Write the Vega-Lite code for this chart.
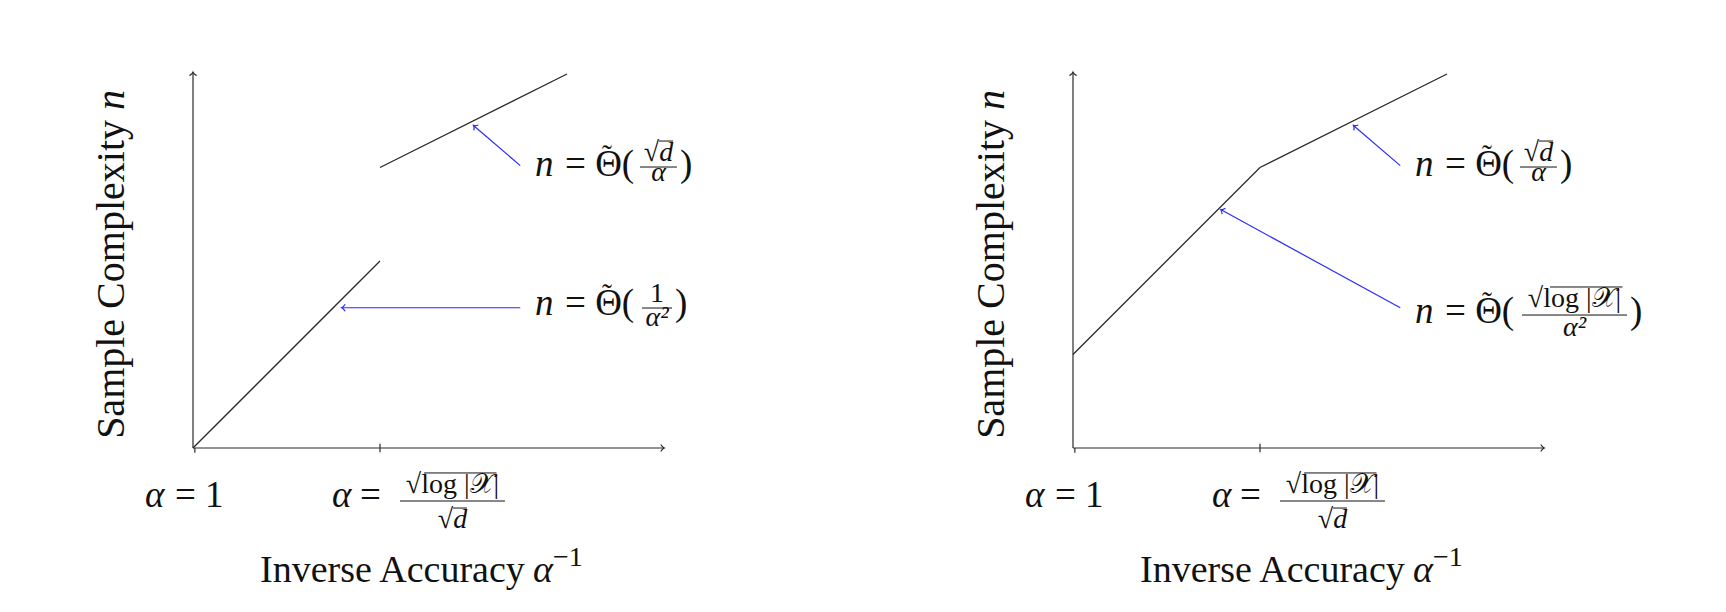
{
  "$schema": "https://vega.github.io/schema/vega-lite/v6.json",
  "padding": 0,
  "spacing": 0,
  "background": "white",
  "config": {"view": {"stroke": null}, "concat": {"spacing": 0}, "text": {"font": "Liberation Serif", "color": "#111", "baseline": "alphabetic"}},
  "datasets": {
    "curves": [
      {"panel": "L", "seg": "a", "x": 0, "y": 0},
      {"panel": "L", "seg": "a", "x": 2, "y": 2},
      {"panel": "L", "seg": "b", "x": 2, "y": 3},
      {"panel": "L", "seg": "b", "x": 4, "y": 4},
      {"panel": "R", "seg": "c", "x": 0, "y": 1},
      {"panel": "R", "seg": "c", "x": 2, "y": 3},
      {"panel": "R", "seg": "c", "x": 4, "y": 4}
    ],
    "arrows": [
      {"panel": "L", "kind": "axis", "x": 0, "y": 0, "x2": 5.04, "y2": 0},
      {"panel": "L", "kind": "axis", "x": 0, "y": 0, "x2": 0, "y2": 4.02},
      {"panel": "L", "kind": "note", "x": 3.5, "y": 3.02, "x2": 3.0, "y2": 3.45},
      {"panel": "L", "kind": "note", "x": 3.5, "y": 1.5, "x2": 1.59, "y2": 1.5},
      {"panel": "R", "kind": "axis", "x": 0, "y": 0, "x2": 5.04, "y2": 0},
      {"panel": "R", "kind": "axis", "x": 0, "y": 0, "x2": 0, "y2": 4.02},
      {"panel": "R", "kind": "note", "x": 3.5, "y": 3.02, "x2": 3.0, "y2": 3.45},
      {"panel": "R", "kind": "note", "x": 3.5, "y": 1.5, "x2": 1.58, "y2": 2.55}
    ],
    "ticks": [
      {"panel": "L", "x": 0.02, "y": -0.05, "y2": 0.0},
      {"panel": "L", "x": 2, "y": -0.045, "y2": 0.045},
      {"panel": "R", "x": 0.02, "y": -0.05, "y2": 0.0},
      {"panel": "R", "x": 2, "y": -0.045, "y2": 0.045}
    ],
    "bars": [
      {"panel": "L", "x": 4.781, "x2": 5.176, "y": 3.005},
      {"panel": "L", "x": 4.984, "x2": 5.134, "y": 3.283},
      {"panel": "L", "x": 4.802, "x2": 5.123, "y": 1.497},
      {"panel": "L", "x": 2.214, "x2": 3.337, "y": -0.567},
      {"panel": "L", "x": 2.471, "x2": 3.246, "y": -0.267},
      {"panel": "L", "x": 2.781, "x2": 2.93, "y": -0.642},
      {"panel": "R", "x": 4.781, "x2": 5.176, "y": 3.005},
      {"panel": "R", "x": 4.984, "x2": 5.134, "y": 3.283},
      {"panel": "R", "x": 4.802, "x2": 5.925, "y": 1.422},
      {"panel": "R", "x": 5.102, "x2": 5.877, "y": 1.722},
      {"panel": "R", "x": 2.214, "x2": 3.337, "y": -0.567},
      {"panel": "R", "x": 2.471, "x2": 3.246, "y": -0.267},
      {"panel": "R", "x": 2.781, "x2": 2.93, "y": -0.642}
    ],
    "labels": [
      {"panel": "L", "part": "mi", "x": 3.658, "y": 2.909, "t": "n"},
      {"panel": "L", "part": "mu", "x": 3.979, "y": 2.909, "t": "= Θ("},
      {"panel": "L", "part": "acc", "x": 4.428, "y": 3.031, "t": "˜"},
      {"panel": "L", "part": "fraci", "x": 4.979, "y": 3.07, "t": "√d"},
      {"panel": "L", "part": "fraci", "x": 4.979, "y": 2.856, "t": "α"},
      {"panel": "L", "part": "mu", "x": 5.209, "y": 2.909, "t": ")"},
      {"panel": "L", "part": "mi", "x": 3.658, "y": 1.422, "t": "n"},
      {"panel": "L", "part": "mu", "x": 3.979, "y": 1.422, "t": "= Θ("},
      {"panel": "L", "part": "acc", "x": 4.428, "y": 1.544, "t": "˜"},
      {"panel": "L", "part": "frac", "x": 4.963, "y": 1.561, "t": "1"},
      {"panel": "L", "part": "fraci", "x": 4.963, "y": 1.305, "t": "α²"},
      {"panel": "L", "part": "mu", "x": 5.155, "y": 1.422, "t": ")"},
      {"panel": "L", "part": "mi", "x": -0.513, "y": -0.631, "t": "α"},
      {"panel": "L", "part": "mu", "x": -0.193, "y": -0.631, "t": "= 1"},
      {"panel": "L", "part": "mi", "x": 1.487, "y": -0.631, "t": "α"},
      {"panel": "L", "part": "mu", "x": 1.786, "y": -0.631, "t": "="},
      {"panel": "L", "part": "frac", "x": 2.775, "y": -0.481, "t": "√log |𝒳|"},
      {"panel": "L", "part": "fraci", "x": 2.775, "y": -0.856, "t": "√d"},
      {"panel": "L", "part": "xt", "x": 0.717, "y": -1.433, "t": "Inverse Accuracy"},
      {"panel": "L", "part": "xi", "x": 3.636, "y": -1.433, "t": "α"},
      {"panel": "L", "part": "sup", "x": 3.85, "y": -1.262, "t": "−1"},
      {"panel": "L", "part": "yu", "x": -0.738, "y": 3.508, "t": "Sample Complexity"},
      {"panel": "L", "part": "yi", "x": -0.738, "y": 3.615, "t": "n"},
      {"panel": "R", "part": "mi", "x": 3.658, "y": 2.909, "t": "n"},
      {"panel": "R", "part": "mu", "x": 3.979, "y": 2.909, "t": "= Θ("},
      {"panel": "R", "part": "acc", "x": 4.428, "y": 3.031, "t": "˜"},
      {"panel": "R", "part": "fraci", "x": 4.979, "y": 3.07, "t": "√d"},
      {"panel": "R", "part": "fraci", "x": 4.979, "y": 2.856, "t": "α"},
      {"panel": "R", "part": "mu", "x": 5.209, "y": 2.909, "t": ")"},
      {"panel": "R", "part": "mi", "x": 3.658, "y": 1.337, "t": "n"},
      {"panel": "R", "part": "mu", "x": 3.979, "y": 1.337, "t": "= Θ("},
      {"panel": "R", "part": "acc", "x": 4.428, "y": 1.459, "t": "˜"},
      {"panel": "R", "part": "frac", "x": 5.364, "y": 1.508, "t": "√log |𝒳|"},
      {"panel": "R", "part": "fraci", "x": 5.364, "y": 1.198, "t": "α²"},
      {"panel": "R", "part": "mu", "x": 5.957, "y": 1.337, "t": ")"},
      {"panel": "R", "part": "mi", "x": -0.513, "y": -0.631, "t": "α"},
      {"panel": "R", "part": "mu", "x": -0.193, "y": -0.631, "t": "= 1"},
      {"panel": "R", "part": "mi", "x": 1.487, "y": -0.631, "t": "α"},
      {"panel": "R", "part": "mu", "x": 1.786, "y": -0.631, "t": "="},
      {"panel": "R", "part": "frac", "x": 2.775, "y": -0.481, "t": "√log |𝒳|"},
      {"panel": "R", "part": "fraci", "x": 2.775, "y": -0.856, "t": "√d"},
      {"panel": "R", "part": "xt", "x": 0.717, "y": -1.433, "t": "Inverse Accuracy"},
      {"panel": "R", "part": "xi", "x": 3.636, "y": -1.433, "t": "α"},
      {"panel": "R", "part": "sup", "x": 3.85, "y": -1.262, "t": "−1"},
      {"panel": "R", "part": "yu", "x": -0.738, "y": 3.508, "t": "Sample Complexity"},
      {"panel": "R", "part": "yi", "x": -0.738, "y": 3.615, "t": "n"}
    ]
  },
  "hconcat": [
    {
      "width": 863,
      "height": 612,
      "encoding": {
        "x": {"field": "x", "type": "quantitative", "scale": {"domain": [-2.0642, 7.1658], "nice": false, "zero": false}, "axis": null},
        "y": {"field": "y", "type": "quantitative", "scale": {"domain": [-1.754, 4.7914], "nice": false, "zero": false}, "axis": null}
      },
      "layer": [
        {
          "data": {"name": "curves"},
          "transform": [{"filter": "datum.panel === 'L'"}],
          "mark": {"type": "line", "color": "#2a2a2a", "strokeWidth": 1.3},
          "encoding": {"detail": {"field": "seg"}}
        },
        {
          "data": {"name": "arrows"},
          "transform": [{"filter": "datum.panel === 'L'"}],
          "mark": {"type": "rule", "strokeWidth": 1.2},
          "encoding": {
            "x2": {"field": "x2"},
            "y2": {"field": "y2"},
            "color": {"field": "kind", "type": "nominal", "scale": {"domain": ["axis", "note"], "range": ["#2a2a2a", "#2b2bff"]}, "legend": null}
          }
        },
        {
          "data": {"name": "arrows"},
          "transform": [
            {"filter": "datum.panel === 'L'"},
            {"calculate": "atan2(datum.y - datum.y2, datum.x2 - datum.x) * 180 / PI", "as": "angle"}
          ],
          "mark": {"type": "point", "shape": "M-1,-1 C-0.6,-0.35 -0.25,-0.1 0,0 C-0.25,0.1 -0.6,0.35 -1,1", "filled": false, "size": 49, "strokeWidth": 1.2, "opacity": 1},
          "encoding": {
            "x": {"field": "x2", "type": "quantitative", "scale": {"domain": [-2.0642, 7.1658], "nice": false, "zero": false}, "axis": null},
            "y": {"field": "y2", "type": "quantitative", "scale": {"domain": [-1.754, 4.7914], "nice": false, "zero": false}, "axis": null},
            "angle": {"field": "angle", "type": "quantitative", "scale": null},
            "color": {"field": "kind", "type": "nominal", "scale": {"domain": ["axis", "note"], "range": ["#2a2a2a", "#2b2bff"]}, "legend": null}
          }
        },
        {
          "data": {"name": "ticks"},
          "transform": [{"filter": "datum.panel === 'L'"}],
          "mark": {"type": "rule", "color": "#2a2a2a", "strokeWidth": 1.2},
          "encoding": {"y2": {"field": "y2"}}
        },
        {
          "data": {"name": "bars"},
          "transform": [{"filter": "datum.panel === 'L'"}],
          "mark": {"type": "rule", "color": "#111", "strokeWidth": 1},
          "encoding": {"x2": {"field": "x2"}}
        },
        {
          "data": {"name": "labels"},
          "transform": [{"filter": "datum.panel === 'L' && datum.part === 'mi'"}],
          "mark": {"type": "text", "fontSize": 37, "fontStyle": "italic", "align": "left"},
          "encoding": {"text": {"field": "t"}}
        },
        {
          "data": {"name": "labels"},
          "transform": [{"filter": "datum.panel === 'L' && datum.part === 'mu'"}],
          "mark": {"type": "text", "fontSize": 37, "align": "left"},
          "encoding": {"text": {"field": "t"}}
        },
        {
          "data": {"name": "labels"},
          "transform": [{"filter": "datum.panel === 'L' && datum.part === 'xt'"}],
          "mark": {"type": "text", "fontSize": 38, "align": "left"},
          "encoding": {"text": {"field": "t"}}
        },
        {
          "data": {"name": "labels"},
          "transform": [{"filter": "datum.panel === 'L' && datum.part === 'xi'"}],
          "mark": {"type": "text", "fontSize": 38, "fontStyle": "italic", "align": "left"},
          "encoding": {"text": {"field": "t"}}
        },
        {
          "data": {"name": "labels"},
          "transform": [{"filter": "datum.panel === 'L' && datum.part === 'acc'"}],
          "mark": {"type": "text", "fontSize": 30, "align": "center"},
          "encoding": {"text": {"field": "t"}}
        },
        {
          "data": {"name": "labels"},
          "transform": [{"filter": "datum.panel === 'L' && datum.part === 'frac'"}],
          "mark": {"type": "text", "fontSize": 28, "align": "center"},
          "encoding": {"text": {"field": "t"}}
        },
        {
          "data": {"name": "labels"},
          "transform": [{"filter": "datum.panel === 'L' && datum.part === 'fraci'"}],
          "mark": {"type": "text", "fontSize": 28, "fontStyle": "italic", "align": "center"},
          "encoding": {"text": {"field": "t"}}
        },
        {
          "data": {"name": "labels"},
          "transform": [{"filter": "datum.panel === 'L' && datum.part === 'sup'"}],
          "mark": {"type": "text", "fontSize": 28, "align": "left"},
          "encoding": {"text": {"field": "t"}}
        },
        {
          "data": {"name": "labels"},
          "transform": [{"filter": "datum.panel === 'L' && datum.part === 'yu'"}],
          "mark": {"type": "text", "fontSize": 40, "align": "right", "angle": 270},
          "encoding": {"text": {"field": "t"}}
        },
        {
          "data": {"name": "labels"},
          "transform": [{"filter": "datum.panel === 'L' && datum.part === 'yi'"}],
          "mark": {"type": "text", "fontSize": 40, "fontStyle": "italic", "align": "left", "angle": 270},
          "encoding": {"text": {"field": "t"}}
        }
      ]
    },
    {
      "width": 863,
      "height": 612,
      "encoding": {
        "x": {"field": "x", "type": "quantitative", "scale": {"domain": [-2.246, 6.984], "nice": false, "zero": false}, "axis": null},
        "y": {"field": "y", "type": "quantitative", "scale": {"domain": [-1.754, 4.7914], "nice": false, "zero": false}, "axis": null}
      },
      "layer": [
        {
          "data": {"name": "curves"},
          "transform": [{"filter": "datum.panel === 'R'"}],
          "mark": {"type": "line", "color": "#2a2a2a", "strokeWidth": 1.3},
          "encoding": {"detail": {"field": "seg"}}
        },
        {
          "data": {"name": "arrows"},
          "transform": [{"filter": "datum.panel === 'R'"}],
          "mark": {"type": "rule", "strokeWidth": 1.2},
          "encoding": {
            "x2": {"field": "x2"},
            "y2": {"field": "y2"},
            "color": {"field": "kind", "type": "nominal", "scale": {"domain": ["axis", "note"], "range": ["#2a2a2a", "#2b2bff"]}, "legend": null}
          }
        },
        {
          "data": {"name": "arrows"},
          "transform": [
            {"filter": "datum.panel === 'R'"},
            {"calculate": "atan2(datum.y - datum.y2, datum.x2 - datum.x) * 180 / PI", "as": "angle"}
          ],
          "mark": {"type": "point", "shape": "M-1,-1 C-0.6,-0.35 -0.25,-0.1 0,0 C-0.25,0.1 -0.6,0.35 -1,1", "filled": false, "size": 49, "strokeWidth": 1.2, "opacity": 1},
          "encoding": {
            "x": {"field": "x2", "type": "quantitative", "scale": {"domain": [-2.246, 6.984], "nice": false, "zero": false}, "axis": null},
            "y": {"field": "y2", "type": "quantitative", "scale": {"domain": [-1.754, 4.7914], "nice": false, "zero": false}, "axis": null},
            "angle": {"field": "angle", "type": "quantitative", "scale": null},
            "color": {"field": "kind", "type": "nominal", "scale": {"domain": ["axis", "note"], "range": ["#2a2a2a", "#2b2bff"]}, "legend": null}
          }
        },
        {
          "data": {"name": "ticks"},
          "transform": [{"filter": "datum.panel === 'R'"}],
          "mark": {"type": "rule", "color": "#2a2a2a", "strokeWidth": 1.2},
          "encoding": {"y2": {"field": "y2"}}
        },
        {
          "data": {"name": "bars"},
          "transform": [{"filter": "datum.panel === 'R'"}],
          "mark": {"type": "rule", "color": "#111", "strokeWidth": 1},
          "encoding": {"x2": {"field": "x2"}}
        },
        {
          "data": {"name": "labels"},
          "transform": [{"filter": "datum.panel === 'R' && datum.part === 'mi'"}],
          "mark": {"type": "text", "fontSize": 37, "fontStyle": "italic", "align": "left"},
          "encoding": {"text": {"field": "t"}}
        },
        {
          "data": {"name": "labels"},
          "transform": [{"filter": "datum.panel === 'R' && datum.part === 'mu'"}],
          "mark": {"type": "text", "fontSize": 37, "align": "left"},
          "encoding": {"text": {"field": "t"}}
        },
        {
          "data": {"name": "labels"},
          "transform": [{"filter": "datum.panel === 'R' && datum.part === 'xt'"}],
          "mark": {"type": "text", "fontSize": 38, "align": "left"},
          "encoding": {"text": {"field": "t"}}
        },
        {
          "data": {"name": "labels"},
          "transform": [{"filter": "datum.panel === 'R' && datum.part === 'xi'"}],
          "mark": {"type": "text", "fontSize": 38, "fontStyle": "italic", "align": "left"},
          "encoding": {"text": {"field": "t"}}
        },
        {
          "data": {"name": "labels"},
          "transform": [{"filter": "datum.panel === 'R' && datum.part === 'acc'"}],
          "mark": {"type": "text", "fontSize": 30, "align": "center"},
          "encoding": {"text": {"field": "t"}}
        },
        {
          "data": {"name": "labels"},
          "transform": [{"filter": "datum.panel === 'R' && datum.part === 'frac'"}],
          "mark": {"type": "text", "fontSize": 28, "align": "center"},
          "encoding": {"text": {"field": "t"}}
        },
        {
          "data": {"name": "labels"},
          "transform": [{"filter": "datum.panel === 'R' && datum.part === 'fraci'"}],
          "mark": {"type": "text", "fontSize": 28, "fontStyle": "italic", "align": "center"},
          "encoding": {"text": {"field": "t"}}
        },
        {
          "data": {"name": "labels"},
          "transform": [{"filter": "datum.panel === 'R' && datum.part === 'sup'"}],
          "mark": {"type": "text", "fontSize": 28, "align": "left"},
          "encoding": {"text": {"field": "t"}}
        },
        {
          "data": {"name": "labels"},
          "transform": [{"filter": "datum.panel === 'R' && datum.part === 'yu'"}],
          "mark": {"type": "text", "fontSize": 40, "align": "right", "angle": 270},
          "encoding": {"text": {"field": "t"}}
        },
        {
          "data": {"name": "labels"},
          "transform": [{"filter": "datum.panel === 'R' && datum.part === 'yi'"}],
          "mark": {"type": "text", "fontSize": 40, "fontStyle": "italic", "align": "left", "angle": 270},
          "encoding": {"text": {"field": "t"}}
        }
      ]
    }
  ]
}
